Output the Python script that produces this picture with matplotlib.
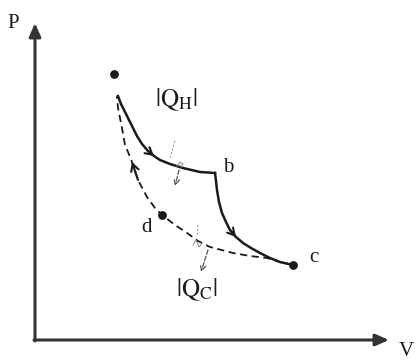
import matplotlib
matplotlib.use("Agg")
import matplotlib.pyplot as plt

plt.rcParams['font.family'] = ['Liberation Serif', 'DejaVu Serif']
plt.rcParams['mathtext.fontset'] = 'stix'

# positions (pixels, y down)
hot_x = [118, 121, 125, 129, 133, 137, 142, 148, 154, 160, 170, 183, 200, 215]
hot_y = [96, 104, 112, 120, 128, 136, 144, 151, 156, 160, 164, 168, 172, 173]
adia_x = [215, 216, 217, 219, 222, 226, 230, 236, 243, 251, 260, 270, 280, 293]
adia_y = [173, 181, 190, 202, 213, 222, 230, 237, 243, 248, 253, 258, 262, 265]
cold_x = [293, 280, 267, 250, 233, 210, 198, 187, 175, 162, 155, 147, 138, 132, 128, 125, 122, 118, 117]
cold_y = [265, 262, 258, 256, 253, 247, 241, 233, 225, 215, 208, 197, 180, 162, 152, 145, 128, 108, 96]
pts_x = [114, 162, 293]
pts_y = [74, 215, 265]
labels = ['b', 'c', 'd']
lab_x = [228, 314, 147]
lab_y = [168, 257, 227]

fig = plt.figure(figsize=(4.17, 3.6), dpi=100)
ax = fig.add_axes([0, 0, 1, 1])
ax.set_xlim(0, 417)
ax.set_ylim(360, 0)
ax.axis('off')

ink = '#1a1a1a'
# axes arrows
ax.annotate('', xy=(35, 23), xytext=(35, 341),
            arrowprops=dict(arrowstyle='-|>,head_length=0.8,head_width=0.35', color='#333333', lw=2.2, shrinkA=0, shrinkB=0))
ax.annotate('', xy=(389, 340), xytext=(34, 340),
            arrowprops=dict(arrowstyle='-|>,head_length=0.8,head_width=0.35', color='#333333', lw=2.2, shrinkA=0, shrinkB=0))
ax.text(13, 24, 'P', fontsize=15, ha='center', va='center', color=ink)
ax.text(406, 352, 'V', fontsize=15, ha='center', va='center', color=ink)

ax.plot(hot_x, hot_y, color=ink, lw=1.8, solid_joinstyle='round')
ax.plot(adia_x, adia_y, color=ink, lw=1.8, solid_joinstyle='round')
ax.plot(cold_x, cold_y, color=ink, lw=1.3, ls=(0, (4, 2.5)))
ax.scatter(pts_x, pts_y, s=28, color=ink, zorder=3)

for lx, ly, t in zip(lab_x, lab_y, labels):
    ax.text(lx, ly, t, fontsize=15, ha='center', va='center', color=ink)

# direction arrows on the curves
arr = dict(arrowstyle='->,head_length=0.5,head_width=0.28', color=ink, lw=1.5, shrinkA=0, shrinkB=0)
ax.annotate('', xy=(hot_x[8], hot_y[8]), xytext=(hot_x[7], hot_y[7]), arrowprops=arr)
ax.annotate('', xy=(adia_x[7], adia_y[7]), xytext=(adia_x[6], adia_y[6]), arrowprops=arr)
ax.annotate('', xy=(cold_x[13], cold_y[13]), xytext=(cold_x[12], cold_y[12]), arrowprops=arr)

# heat arrows
thin = dict(arrowstyle='->,head_length=0.4,head_width=0.2', color='#555555', lw=0.9, ls='--', shrinkA=0, shrinkB=0)
ax.plot([175, 170], [141, 158], color='#888888', lw=0.7, ls=(0, (2, 2)))
ax.plot([177, 180, 183, 181], [166, 162, 164, 167], color='#888888', lw=0.7)
ax.annotate('', xy=(175, 186), xytext=(179, 170), arrowprops=thin)
ax.plot([198, 197], [225, 237], color='#888888', lw=0.7, ls=(0, (2, 2)))
ax.plot([193, 196, 199, 202], [245, 240, 247, 243], color='#888888', lw=0.7)
ax.annotate('', xy=(201, 272), xytext=(208, 250), arrowprops=thin)

ax.text(176, 100, r'$|\mathrm{Q}_\mathrm{H}|$', fontsize=18, ha='center', va='center', color=ink)
ax.text(197, 290, r'$|\mathrm{Q}_\mathrm{C}|$', fontsize=18, ha='center', va='center', color=ink)

fig.savefig('out.png', dpi=100)
